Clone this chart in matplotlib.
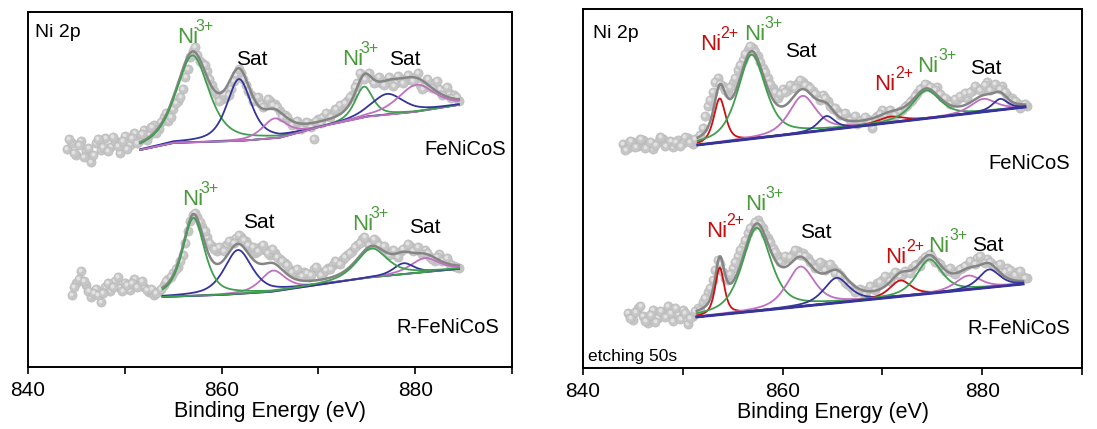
import numpy as np
import matplotlib.pyplot as plt
from matplotlib.ticker import MultipleLocator

plt.rcParams['font.family'] = ['Liberation Sans', 'DejaVu Sans']

# ---- raw Ni 2p points (two interleaved 0.5 eV scans, intensity in a.u., stacked) ----
STEP = 0.5
lt_start = 844.0   # left panel, FeNiCoS
lt_raw = [218, 224, 212, 226, 216, 205, 224, 217, 229, 220,
          226, 214, 231, 222, 234, 226, 237, 232, 242, 238,
          250, 246, 258, 266, 278, 298, 316, 312, 304, 296,
          282, 272, 268, 270, 278, 292, 294, 282, 272, 268,
          264, 262, 266, 263, 256, 252, 246, 244, 242, 241,
          244, 228, 248, 250, 252, 254, 257, 262, 266, 272,
          284, 290, 292, 288, 285, 284, 286, 285, 284, 288,
          287, 288, 290, 282, 280, 284, 284, 278, 276, 274,
          272, 266]
lt_start2 = 844.25
lt_raw2 = [228, 214, 222, 210, 219, 212, 228, 220, 216, 230,
           221, 226, 218, 229, 224, 233, 227, 240, 234, 245,
           254, 250, 264, 270, 290, 310, 320, 306, 302, 288,
           276, 266, 273, 272, 286, 298, 288, 276, 266, 270,
           260, 268, 262, 260, 250, 250, 242, 246, 238, 245,
           240, 246, 244, 254, 250, 258, 262, 264, 270, 280,
           294, 288, 294, 284, 290, 282, 290, 281, 291, 284,
           292, 286, 294, 278, 288, 279, 286, 272, 280, 269,
           270]
lb_start = 844.5   # left panel, R-FeNiCoS
lb_raw = [72, 84, 96, 82, 70, 78, 65, 80, 76, 86,
          79, 84, 77, 88, 82, 80, 75, 72, 76, 82,
          88, 94, 100, 112, 136, 152, 150, 140, 130, 121,
          116, 118, 122, 126, 129, 130, 126, 118, 114, 120,
          117, 112, 114, 108, 104, 98, 96, 92, 95, 90,
          98, 96, 94, 99, 102, 104, 108, 112, 116, 122,
          128, 125, 124, 126, 120, 116, 114, 112, 116, 119,
          121, 118, 116, 117, 110, 106, 113, 108, 104, 101,
          99]
lb_start2 = 844.75
lb_raw2 = [80, 88, 86, 76, 74, 72, 74, 84, 80, 90,
           76, 82, 84, 80, 86, 77, 78, 74, 78, 86,
           90, 98, 106, 124, 146, 154, 145, 136, 124, 118,
           120, 116, 126, 124, 132, 127, 122, 120, 116, 122,
           114, 118, 110, 106, 102, 95, 98, 91, 94, 92,
           100, 92, 97, 98, 106, 103, 110, 114, 120, 124,
           130, 122, 128, 122, 121, 112, 117, 110, 118, 123,
           116, 120, 113, 114, 108, 110, 106, 109, 102, 100]
rt_start = 844.0   # right panel (etched), FeNiCoS
rt_raw = [224, 220, 226, 222, 228, 223, 219, 226, 229, 224,
          221, 228, 225, 230, 224, 228, 240, 262, 276, 290,
          282, 275, 285, 298, 308, 318, 320, 312, 300, 290,
          280, 270, 279, 278, 282, 285, 286, 282, 277, 272,
          273, 267, 259, 257, 254, 251, 250, 244, 248, 249,
          240, 252, 258, 256, 251, 254, 258, 263, 268, 275,
          280, 283, 280, 281, 271, 268, 266, 268, 271, 270,
          277, 280, 279, 286, 280, 281, 282, 273, 270, 265,
          263, 262]
rt_start2 = 844.25
rt_raw2 = [218, 227, 221, 229, 220, 226, 223, 231, 222, 227,
           226, 222, 231, 226, 229, 233, 252, 268, 286, 284,
           278, 281, 290, 303, 314, 322, 316, 306, 296, 284,
           276, 274, 276, 283, 280, 288, 283, 280, 274, 268,
           270, 262, 260, 253, 255, 248, 252, 247, 251, 246,
           250, 254, 253, 258, 253, 257, 261, 266, 272, 279,
           284, 281, 278, 274, 270, 264, 269, 272, 275, 276,
           282, 278, 283, 278, 284, 279, 276, 268, 267, 260,
           264]
rb_start = 844.5   # right panel (etched), R-FeNiCoS
rb_raw = [55, 48, 60, 52, 45, 58, 50, 56, 62, 47,
          54, 58, 44, 52, 60, 66, 76, 88, 108, 96,
          88, 100, 112, 122, 135, 142, 148, 140, 130, 120,
          112, 108, 110, 114, 117, 115, 110, 104, 102, 104,
          102, 100, 96, 90, 84, 80, 77, 76, 78, 80,
          85, 88, 90, 92, 95, 93, 96, 100, 104, 108,
          112, 110, 106, 100, 98, 96, 97, 100, 103, 106,
          110, 107, 109, 104, 102, 98, 100, 94, 96, 92,
          90]
rb_start2 = 844.75
rb_raw2 = [50, 56, 62, 47, 53, 46, 57, 51, 55, 60,
           49, 55, 50, 57, 58, 70, 80, 98, 104, 90,
           94, 106, 118, 128, 140, 146, 144, 134, 126, 116,
           106, 112, 111, 118, 113, 112, 106, 100, 106, 98,
           104, 95, 93, 86, 82, 76, 79, 73, 82, 78,
           86, 92, 87, 96, 92, 97, 95, 103, 102, 111,
           114, 106, 104, 97, 100, 94, 99, 102, 107, 104,
           112, 105, 106, 101, 104, 96, 98, 93, 97, 90]

# ---- fitted background (vertices) and peaks: kind, centre eV, height, FWHM eV ----
lt_bg_e = [851.6, 855, 862, 866, 870, 875, 880, 884.5]
lt_bg_y = [217, 224, 226, 229, 239, 250, 255, 262]
lt_kind = ['ni3', 'satb', 'satm', 'ni3', 'satb', 'satm']
lt_cen = [857.0, 861.8, 865.5, 874.7, 877.1, 880.1]
lt_amp = [87, 62, 20, 31, 21, 27]
lt_fwhm = [4.0, 3.0, 3.0, 2.2, 4.0, 4.5]

lb_bg_e = [853.9, 860, 865, 870, 875, 880, 884.5]
lb_bg_y = [70, 72, 75, 82, 89, 94, 98]
lb_kind = ['satm', 'satb', 'ni3', 'satm', 'satb', 'ni3']
lb_cen = [865.3, 861.7, 857.1, 881.0, 878.8, 875.5]
lb_amp = [21, 44, 78, 14, 11, 29]
lb_fwhm = [3.0, 3.4, 2.7, 3.5, 2.5, 3.8]

rt_bg_e = [851.5, 884.3]
rt_bg_y = [223, 261]
rt_kind = ['ni2', 'ni3', 'satm', 'satb', 'ni2', 'ni3', 'satm', 'satb']
rt_cen = [853.7, 856.9, 862.0, 864.4, 870.8, 874.4, 880.1, 881.8]
rt_amp = [44, 84, 37, 14, 6, 28, 13, 11]
rt_fwhm = [1.4, 3.3, 3.2, 2.0, 3.0, 3.3, 3.0, 1.8]

rb_bg_e = [851.4, 884.1]
rb_bg_y = [51, 84]
rb_kind = ['ni2', 'ni3', 'satm', 'satb', 'ni2', 'ni3', 'satm', 'satb']
rb_cen = [853.7, 857.4, 861.8, 865.4, 871.8, 874.7, 878.6, 880.7]
rb_amp = [47, 83, 40, 25, 16, 34, 14, 18]
rb_fwhm = [1.1, 3.4, 3.3, 3.0, 2.5, 3.0, 3.0, 2.5]

ETA = 0.6  # lorentzian fraction of the pseudo-voigt line shape
COL = {'ni3': '#3f9f4f', 'ni2': '#cc1010', 'satb': '#34349a', 'satm': '#c070c0'}
TXT_GREEN, TXT_RED = '#4a9a3c', '#c40d0d'


def pv(x, c, a, w):
    g = np.exp(-4 * np.log(2) * ((x - c) / w) ** 2)
    l = 1 / (1 + (2 * (x - c) / w) ** 2)
    return a * (ETA * l + (1 - ETA) * g)


def dots(ax, start, raw):
    e = start + STEP * np.arange(len(raw))
    ax.scatter(e, raw, s=44, color='#c6c6c6', edgecolors='#b6b6b6', linewidths=0.4, zorder=1)
    ax.scatter(e - 0.08, np.asarray(raw) + 1.2, s=8, color='#e2e2e2', lw=0, zorder=1)


def fit(ax, bg_e, bg_y, kind, cen, amp, fwhm, bg_line=False):
    x = np.linspace(bg_e[0], bg_e[-1], 500)
    bg = np.interp(x, bg_e, bg_y)
    total = bg.copy()
    for k, c, a, w in zip(kind, cen, amp, fwhm):
        p = pv(x, c, a, w)
        total += p
        ax.plot(x, bg + p, color=COL[k], lw=1.3, zorder=3)
    if bg_line:
        ax.plot(x, bg, color=COL['satb'], lw=2.0, zorder=4)
    ax.plot(x, total, color='#858585', lw=1.8, zorder=2)


fig = plt.figure(figsize=(10.97, 4.29), dpi=100)
axL = fig.add_axes([0.02552, 0.14452, 0.44120, 0.82751])
axR = fig.add_axes([0.53145, 0.14219, 0.45488, 0.83683])

for ax, s1, r1, s2, r2 in ((axL, lt_start, lt_raw, lt_start2, lt_raw2),
                           (axL, lb_start, lb_raw, lb_start2, lb_raw2),
                           (axR, rt_start, rt_raw, rt_start2, rt_raw2),
                           (axR, rb_start, rb_raw, rb_start2, rb_raw2)):
    dots(ax, s1, r1)
    dots(ax, s2, r2)

fit(axL, lt_bg_e, lt_bg_y, lt_kind, lt_cen, lt_amp, lt_fwhm)
fit(axL, lb_bg_e, lb_bg_y, lb_kind, lb_cen, lb_amp, lb_fwhm)
fit(axR, rt_bg_e, rt_bg_y, rt_kind, rt_cen, rt_amp, rt_fwhm, bg_line=True)
fit(axR, rb_bg_e, rb_bg_y, rb_kind, rb_cen, rb_amp, rb_fwhm, bg_line=True)

for ax, top in ((axL, 355), (axR, 359)):
    ax.set_xlim(840, 890)
    ax.set_ylim(0, top)
    ax.set_yticks([])
    ax.xaxis.set_major_locator(MultipleLocator(20))
    ax.xaxis.set_minor_locator(MultipleLocator(10))
    ax.tick_params(axis='x', which='both', direction='out', length=5, width=1.2, labelsize=15, pad=5)
    for s in ax.spines.values():
        s.set_linewidth(1.4)
    ax.set_xlabel('Binding Energy (eV)', fontsize=15.5, labelpad=1)


def ni(ax, x, y, sup, color, dx=15.0):
    ax.text(x, y, 'Ni', color=color, fontsize=16, ha='left', va='baseline', zorder=5)
    ax.annotate(sup, (x, y), xytext=(dx, 8.5), textcoords='offset points', color=color,
                fontsize=11.5, ha='left', va='baseline', zorder=5)


def sat(ax, x, y):
    ax.text(x, y, 'Sat', fontsize=15, ha='left', va='baseline', zorder=5)


# left panel labels
axL.text(840.7, 334, 'Ni 2p', fontsize=14, va='center')
ni(axL, 855.4, 324, '3+', TXT_GREEN, dx=13)
sat(axL, 861.5, 302)
ni(axL, 872.5, 302, '3+', TXT_GREEN, dx=13)
sat(axL, 877.3, 302)
axL.text(889.4, 217, 'FeNiCoS', fontsize=14.5, ha='right', va='center')
ni(axL, 855.9, 162, '3+', TXT_GREEN, dx=13)
sat(axL, 862.2, 139)
ni(axL, 873.5, 137, '3+', TXT_GREEN, dx=13)
sat(axL, 879.4, 134)
axL.text(888.7, 40, 'R-FeNiCoS', fontsize=14.5, ha='right', va='center')

# right panel labels
axR.text(841.0, 335, 'Ni 2p', fontsize=14, va='center')
ni(axR, 851.7, 318, '2+', TXT_RED)
ni(axR, 856.1, 328, '3+', TXT_GREEN)
sat(axR, 860.2, 311)
ni(axR, 869.2, 278, '2+', TXT_RED)
ni(axR, 873.5, 296, '3+', TXT_GREEN)
sat(axR, 878.8, 294)
axR.text(888.8, 205, 'FeNiCoS', fontsize=14.5, ha='right', va='center')
ni(axR, 852.3, 131, '2+', TXT_RED)
ni(axR, 856.2, 158, '3+', TXT_GREEN)
sat(axR, 861.7, 130)
ni(axR, 870.3, 105, '2+', TXT_RED)
ni(axR, 874.6, 116, '3+', TXT_GREEN)
sat(axR, 879.0, 117)
axR.text(888.8, 40, 'R-FeNiCoS', fontsize=14.5, ha='right', va='center')
axR.text(840.5, 12, 'etching 50s', fontsize=12.5, va='center')

fig.savefig('out.png', dpi=100)
